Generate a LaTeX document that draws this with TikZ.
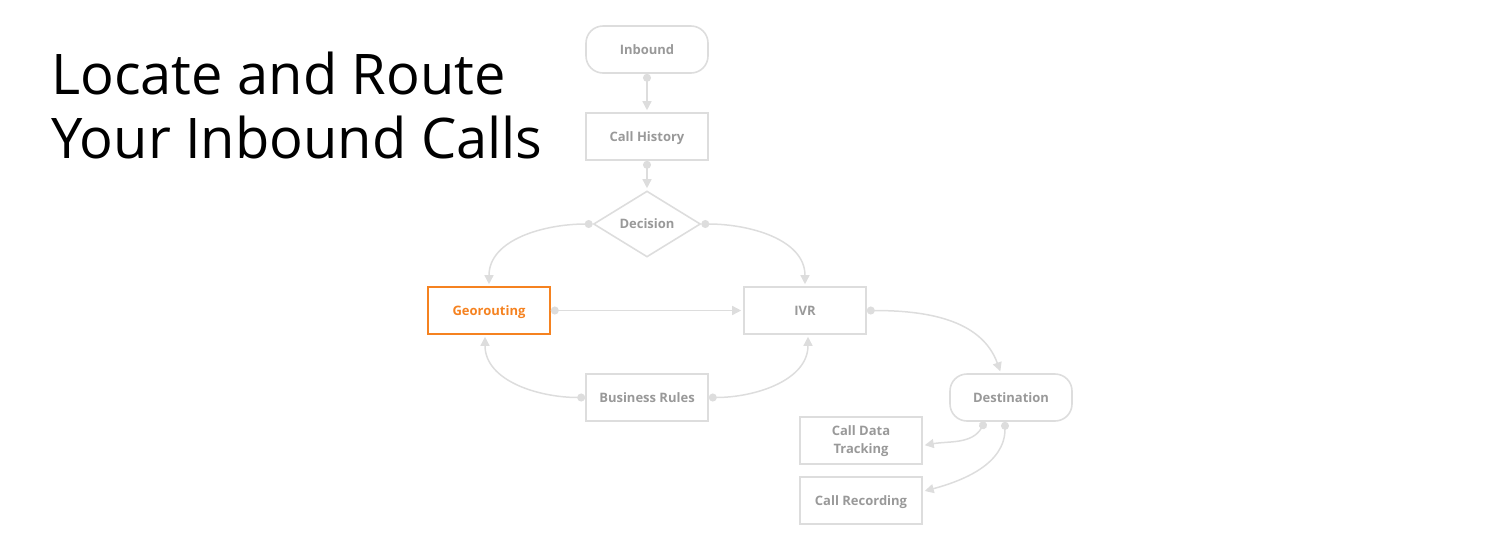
\documentclass[tikz,border=0pt]{standalone}
\usepackage{fontspec}
\setmainfont{Open Sans}
\usepackage{tikz}
\usetikzlibrary{shapes.geometric,arrows.meta,positioning,calc}
\definecolor{linegray}{HTML}{DDDDDD}
\definecolor{textgray}{HTML}{999999}
\definecolor{geoorange}{HTML}{F58220}

\begin{document}
\begin{tikzpicture}[
    x=1pt, y=1pt,
    font=\bfseries\fontsize{13}{18}\selectfont,
    box/.style={rectangle, draw=linegray, line width=1.6pt, minimum width=122pt, minimum height=47pt, text=textgray, inner sep=2pt, text height=10pt, text depth=1pt, align=center},
    twoline/.style={box, text height=27pt},
    pill/.style={box, rounded corners=17pt},
    active/.style={box, draw=geoorange, text=geoorange},
    choice/.style={diamond, draw=linegray, line width=1.6pt, minimum width=107pt, minimum height=61pt, inner sep=0pt, text height=10pt, text depth=1pt, text=textgray},
    conn/.style={draw=linegray, line width=1.5pt, {Circle[length=8pt,width=8pt]}-{Triangle[length=9pt,width=9pt]}, shorten >=2pt}
]
    \useasboundingbox (0,0) rectangle (1500,-550);

    % title
    \node[anchor=base west, inner sep=0pt, font=\mdseries\fontsize{56}{64}\selectfont] (title1) at (51,-94) {Locate and Route};
    \node[anchor=base west, inner sep=0pt, font=\mdseries\fontsize{56}{64}\selectfont] (title2) at (51,-158) {Your Inbound Calls};

    % flow
    \node[pill] (inbound) at (647,-49.5) {Inbound};
    \node[box] (history) at (647,-136.5) {Call History};
    \node[choice] (decision) at (647,-224) {Decision};
    \node[active] (geo) at (489,-310.5) {Georouting};
    \node[box] (ivr) at (805,-310.5) {IVR};
    \node[box] (rules) at (647,-397.5) {Business Rules};
    \node[pill] (dest) at (1011,-397.5) {Destination};
    \node[twoline] (tracking) at (861,-440.5) {Call Data\\Tracking};
    \node[box] (recording) at (861,-500.5) {Call Recording};

    \draw[conn] (inbound) -- (history);
    \draw[conn] (history) -- (decision);
    \draw[conn] (decision.west) to[out=180, in=90] (geo.north);
    \draw[conn] (decision.east) to[out=0, in=90] (ivr.north);
    \draw[conn] (geo) -- (ivr);
    \draw[conn] (rules.west) to[out=180, in=-90] ([xshift=-4pt]geo.south);
    \draw[conn] (rules.east) to[out=0, in=-90] ([xshift=3pt]ivr.south);
    \draw[conn] (ivr.east) to[out=0, in=110] ([xshift=-10pt]dest.north);
    \draw[conn] ([xshift=-26pt]dest.south) to[out=-120, in=10] ([yshift=-5pt]tracking.east);
    \draw[conn] ([xshift=-6pt]dest.south) to[out=-90, in=15] ([yshift=9pt]recording.east);
\end{tikzpicture}
\end{document}
